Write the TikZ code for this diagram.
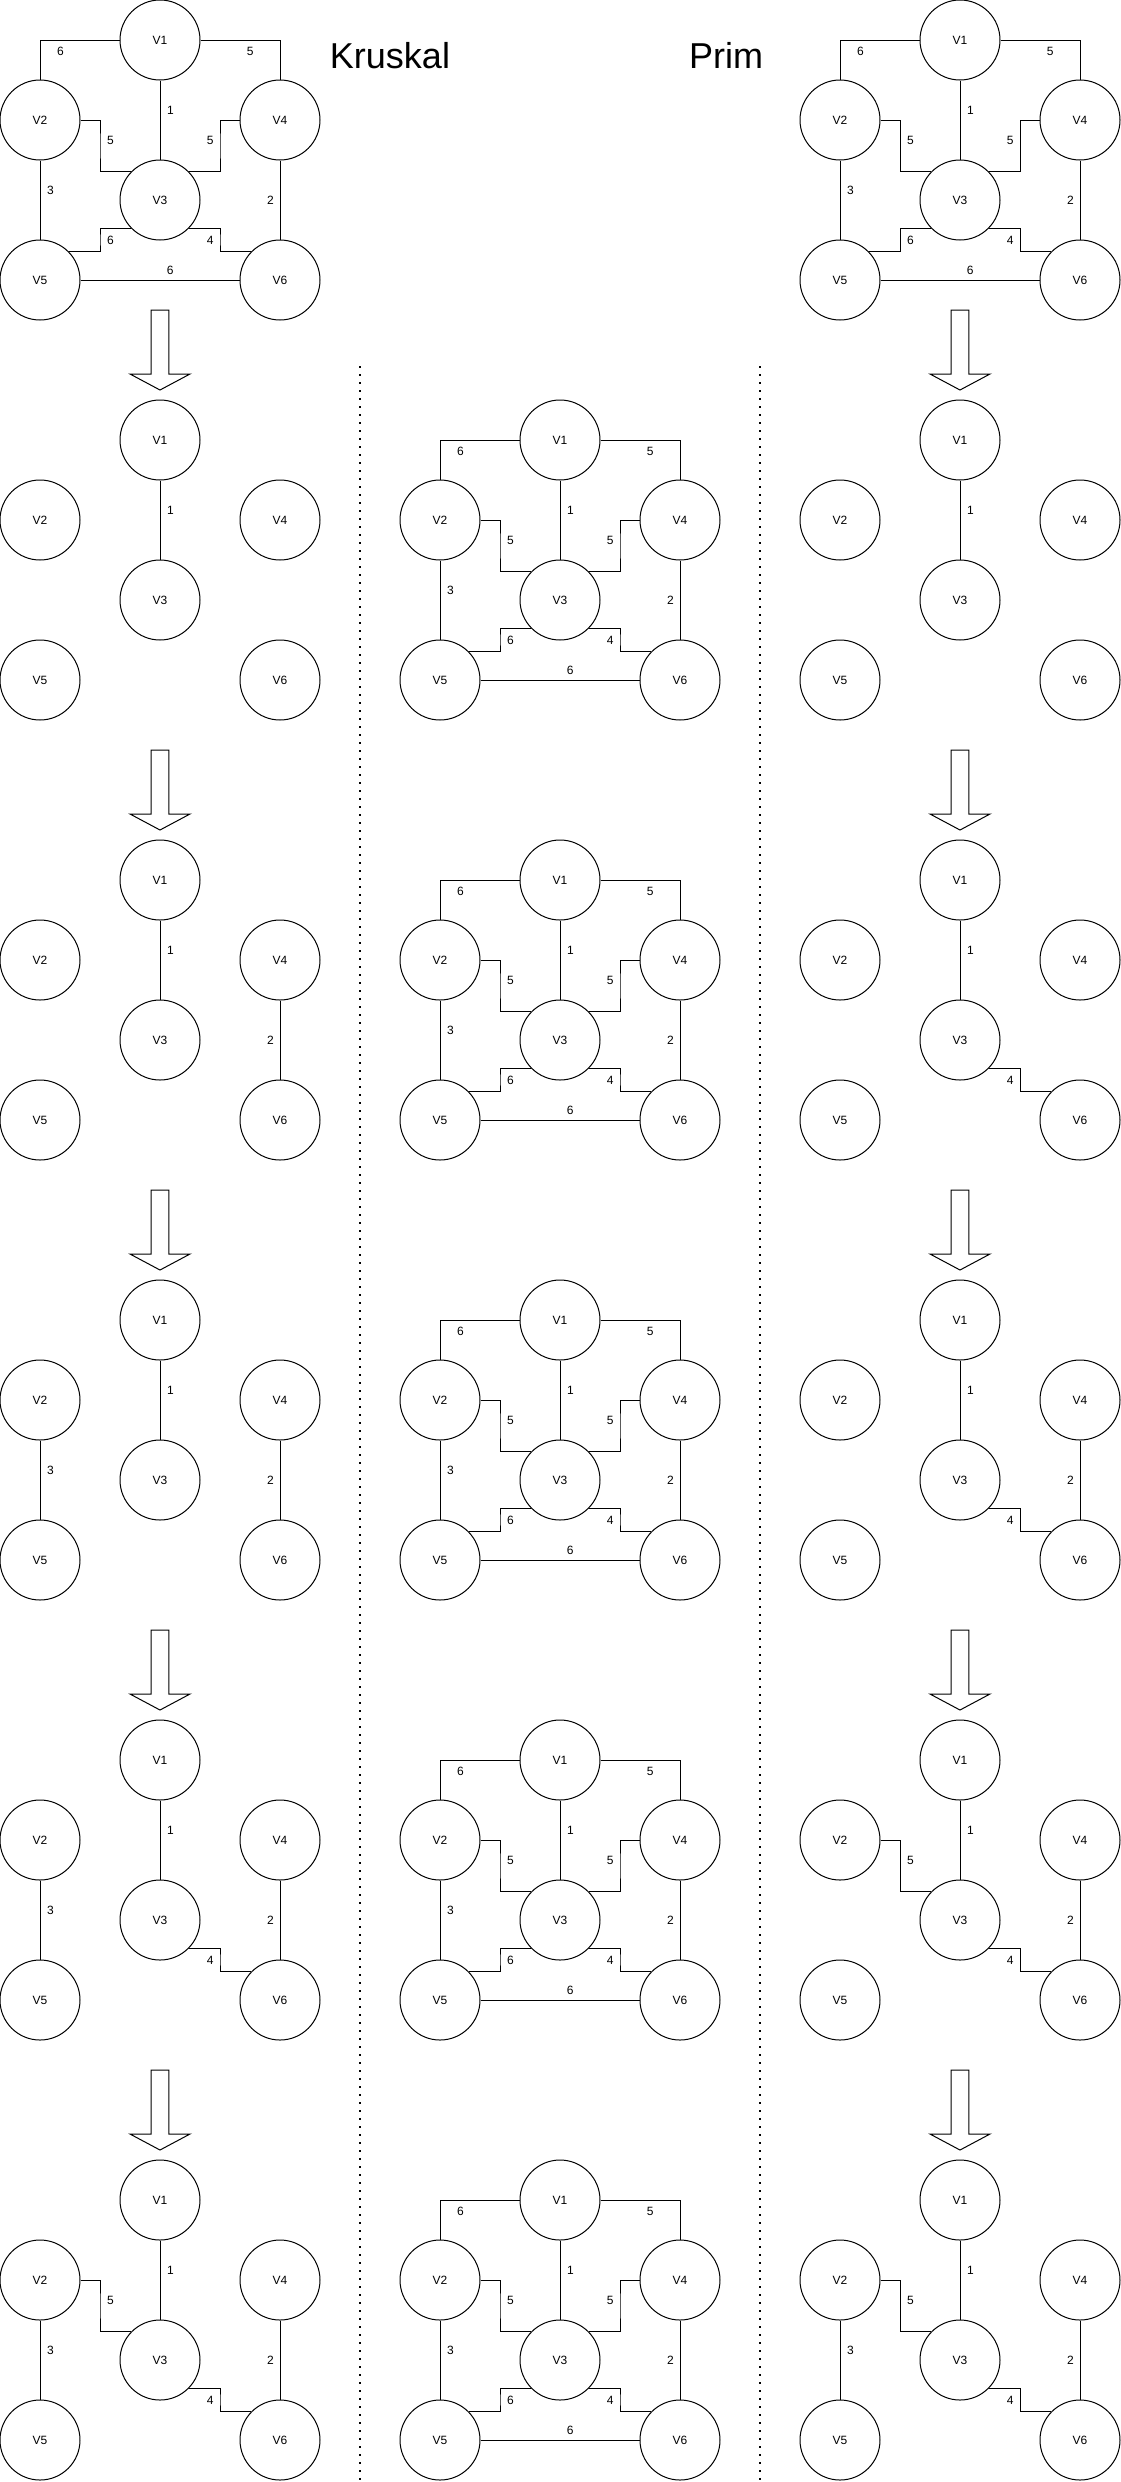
\documentclass[tikz,border=0pt]{standalone}
\usepackage{fontspec}
\setmainfont{Liberation Sans}
\tikzset{
  vert/.style={circle, draw, line width=1pt, minimum size=80pt, inner sep=0pt, font=\fontsize{12}{14}\selectfont},
  edge/.style={draw, line width=1pt},
  lbl/.style={inner sep=0pt, font=\fontsize{12}{14}\selectfont},
  dots/.style={line width=2pt, dash pattern=on 2pt off 6pt},
  bigarrow/.style={draw, line width=1pt, fill=white, line join=miter},
  title/.style={font=\fontsize{36}{40}\selectfont, anchor=base, inner sep=0pt}
}
\newcommand\myvertices{%
  \node[vert] (V1) at (160,40) {V1};
  \node[vert] (V2) at (40,120) {V2};
  \node[vert] (V4) at (280,120) {V4};
  \node[vert] (V3) at (160,200) {V3};
  \node[vert] (V5) at (40,280) {V5};
  \node[vert] (V6) at (280,280) {V6};
}
\newcommand\myedA{\draw[edge] (V1) -- (V3); \node[lbl] (L1) at (170.5,110.7) {1};}
\newcommand\myedB{\draw[edge] (V4) -- (V6); \node[lbl] (L2) at (270.5,200.7) {2};}
\newcommand\myedC{\draw[edge] (V2) -- (V5); \node[lbl] (L3) at (50.5,190.7) {3};}
\newcommand\myedD{\draw[edge] (V3.315) -| (220,240) |- (V6.135); \node[lbl] (L4) at (210.3,240.7) {4};}
\newcommand\myedE{\draw[edge] (V2.east) -| (100,146) |- (V3.135); \node[lbl] (L5a) at (110.5,140.7) {5};}
\newcommand\myedF{\draw[edge] (V4.west) -| (220,146) |- (V3.45); \node[lbl] (L5b) at (210.3,140.7) {5};}
\newcommand\myedG{\draw[edge] (V1.east) -| (V4.north); \node[lbl] (L5c) at (250.3,51.3) {5};}
\newcommand\myedH{\draw[edge] (V1.west) -| (V2.north); \node[lbl] (L6a) at (60.5,51.3) {6};}
\newcommand\myedI{\draw[edge] (V3.225) -| (100,240) |- (V5.45); \node[lbl] (L6b) at (110.5,240.7) {6};}
\newcommand\myedJ{\draw[edge] (V5) -- (V6); \node[lbl] (L6c) at (170.3,270.7) {6};}
\newcommand\myedAll{\myedA\myedB\myedC\myedD\myedE\myedF\myedG\myedH\myedI\myedJ}
\newcommand\mygraph[4]{%
  \begin{scope}[shift={(#2,#3)}, name prefix=#1-]
    \myvertices
    #4
  \end{scope}}
\newcommand\myarrow[3]{%
  \draw[bigarrow] (#2,#3) ++(-8.8,0) coordinate (#1) -- ++(17.6,0) -- ++(0,64) -- ++(21.2,0) -- ++(-30,16) -- ++(-30,-16) -- ++(21.2,0) -- cycle;}
\begin{document}
\begin{tikzpicture}[x=1pt,y=-1pt]
  \useasboundingbox (0,0) rectangle (1121,2482);
  \fill[white] (0,0) rectangle (1121,2482);
  % titles
  \node[title] (kruskal) at (390,68) {Kruskal};
  \node[title] (prim) at (726,68) {Prim};
  % dotted separators
  \coordinate (d1a) at (360,366);
  \coordinate (d1b) at (360,2482);
  \coordinate (d2a) at (760,366);
  \coordinate (d2b) at (760,2482);
  \draw[dots] (d1a) -- (d1b);
  \draw[dots] (d2a) -- (d2b);
  % row 1
  \mygraph{k1}{0}{0}{\myedAll}
  \mygraph{p1}{800}{0}{\myedAll}
  % row 2
  \mygraph{k2}{0}{400}{\myedA}
  \mygraph{m2}{400}{400}{\myedAll}
  \mygraph{p2}{800}{400}{\myedA}
  % row 3
  \mygraph{k3}{0}{840}{\myedA\myedB}
  \mygraph{m3}{400}{840}{\myedAll}
  \mygraph{p3}{800}{840}{\myedA\myedD}
  % row 4
  \mygraph{k4}{0}{1280}{\myedA\myedB\myedC}
  \mygraph{m4}{400}{1280}{\myedAll}
  \mygraph{p4}{800}{1280}{\myedA\myedD\myedB}
  % row 5
  \mygraph{k5}{0}{1720}{\myedA\myedB\myedC\myedD}
  \mygraph{m5}{400}{1720}{\myedAll}
  \mygraph{p5}{800}{1720}{\myedA\myedD\myedB\myedE}
  % row 6
  \mygraph{k6}{0}{2160}{\myedA\myedB\myedC\myedD\myedE}
  \mygraph{m6}{400}{2160}{\myedAll}
  \mygraph{p6}{800}{2160}{\myedA\myedD\myedB\myedE\myedC}
  % arrows
  \myarrow{ka1}{160}{310}
  \myarrow{ka2}{160}{750}
  \myarrow{ka3}{160}{1190}
  \myarrow{ka4}{160}{1630}
  \myarrow{ka5}{160}{2070}
  \myarrow{pa1}{960}{310}
  \myarrow{pa2}{960}{750}
  \myarrow{pa3}{960}{1190}
  \myarrow{pa4}{960}{1630}
  \myarrow{pa5}{960}{2070}
\end{tikzpicture}
\end{document}
